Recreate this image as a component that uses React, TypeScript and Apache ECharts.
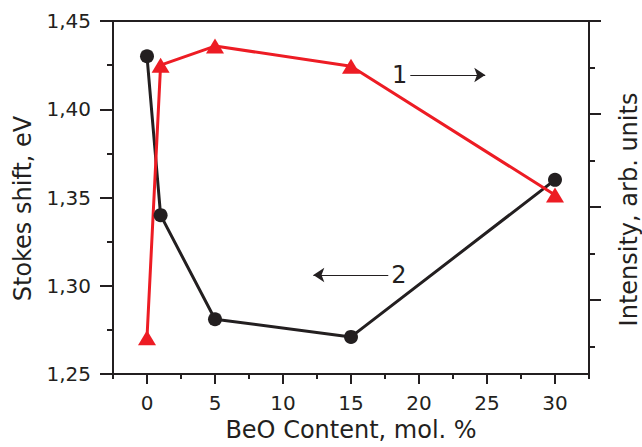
import React, { useEffect, useRef } from "react";
import * as echarts from "echarts";

const BEO_CONTENT = [0, 1, 5, 15, 30];
const STOKES_SHIFT = [1.43, 1.34, 1.281, 1.271, 1.36];
const INTENSITY = [10.3, 87.5, 92.9, 87.2, 50.7];

const ARROW_1 = { label: "1", x: [19.36, 24.87], y: 1.4194 };
const ARROW_2 = { label: "2", x: [17.74, 12.23], y: 1.3061 };

const INK = "#231f20";
const RED = "#ed1c24";
const FONT = "DejaVu Sans";

export default function App() {
  const ref = useRef<HTMLDivElement>(null);
  useEffect(() => {
    if (!ref.current) return;
    const chart = echarts.init(ref.current, null, { renderer: "svg" });
    const gridBase = { left: 113, top: 21, width: 476 };
    const ghostLine = { show: true, onZero: false, lineStyle: { color: INK, width: 2, opacity: 0 } };
    const hiddenX = (gridIndex: number) => ({
      type: "value",
      gridIndex,
      min: 0,
      max: 1,
      show: false,
      axisLine: { onZero: false },
    });
    const option: any = {
      animation: false,
      textStyle: { fontFamily: FONT, color: INK },
      grid: [
        {
          ...gridBase,
          height: 353,
          show: true,
          borderColor: INK,
          borderWidth: 2,
          outerBoundsMode: "none",
        },
        { left: 147, top: 21, width: 408, height: 353, outerBoundsMode: "none" },
        { ...gridBase, height: 325.5, outerBoundsMode: "none" },
        { ...gridBase, height: 279, outerBoundsMode: "none" },
      ],
      xAxis: [
        {
          type: "value",
          gridIndex: 0,
          min: -2.5,
          max: 32.5,
          interval: 2.5,
          axisLine: { show: true, onZero: false, lineStyle: { color: INK, width: 2 } },
          axisTick: { show: true, length: 5, lineStyle: { color: INK, width: 2 } },
          axisLabel: { show: false },
          splitLine: { show: false },
        },
        {
          type: "value",
          gridIndex: 1,
          min: 0,
          max: 30,
          interval: 5,
          name: "BeO Content, mol. %",
          nameLocation: "middle",
          nameGap: 44,
          nameTextStyle: { fontSize: 24, color: INK, fontFamily: FONT },
          axisLine: ghostLine,
          axisTick: { show: true, length: 10, lineStyle: { color: INK, width: 2 } },
          axisLabel: { fontSize: 20, color: INK, fontFamily: FONT, margin: 19 },
          splitLine: { show: false },
        },
        hiddenX(2),
        hiddenX(3),
      ],
      yAxis: [
        {
          type: "value",
          gridIndex: 0,
          position: "left",
          min: 1.25,
          max: 1.45,
          interval: 0.05,
          name: "Stokes shift, eV",
          nameLocation: "middle",
          nameGap: 78,
          nameTextStyle: { fontSize: 24, color: INK, fontFamily: FONT, padding: [0, 22, 0, 0] },
          axisLine: { show: true, onZero: false, lineStyle: { color: INK, width: 2 } },
          axisTick: { show: true, length: 13, lineStyle: { color: INK, width: 2 } },
          minorTick: { show: true, splitNumber: 2, length: 6, lineStyle: { color: INK, width: 2 } },
          axisLabel: {
            fontSize: 20,
            color: INK,
            fontFamily: FONT,
            margin: 22,
            formatter: (v: number) => v.toFixed(2).replace(".", ","),
          },
          splitLine: { show: false },
          minorSplitLine: { show: false },
        },
        {
          type: "value",
          gridIndex: 0,
          position: "right",
          min: 0,
          max: 100,
          name: "Intensity, arb. units",
          nameLocation: "middle",
          nameGap: 28,
          nameRotate: 90,
          nameTextStyle: { fontSize: 24, color: INK, fontFamily: FONT, padding: [0, 24, 0, 0] },
          axisLine: { show: true, onZero: false, lineStyle: { color: INK, width: 2 } },
          axisTick: { show: false },
          axisLabel: { show: false },
          splitLine: { show: false },
        },
        { type: "value", gridIndex: 1, min: 0, max: 1, show: false, axisLine: { onZero: false } },
        {
          type: "value",
          gridIndex: 2,
          position: "right",
          inverse: true,
          min: 0,
          max: 3.5,
          interval: 0.5,
          axisLine: ghostLine,
          axisTick: { show: true, length: 6, lineStyle: { color: INK, width: 2 } },
          axisLabel: { show: false },
          splitLine: { show: false },
        },
        {
          type: "value",
          gridIndex: 3,
          position: "right",
          inverse: true,
          min: 0,
          max: 3,
          interval: 1,
          axisLine: ghostLine,
          axisTick: { show: true, length: 12, lineStyle: { color: INK, width: 2 } },
          axisLabel: { show: false },
          splitLine: { show: false },
        },
      ],
      series: [
        {
          type: "line",
          xAxisIndex: 0,
          yAxisIndex: 0,
          data: BEO_CONTENT.map((x, i) => [x, STOKES_SHIFT[i]]),
          symbol: "circle",
          symbolSize: 14,
          lineStyle: { color: INK, width: 3 },
          itemStyle: { color: INK },
          emphasis: { disabled: true },
          markLine: {
            silent: true,
            symbol: ["none", "arrow"],
            symbolSize: 11,
            lineStyle: { color: INK, width: 1.2, type: "solid" },
            label: {
              show: true,
              position: "start",
              distance: 3,
              formatter: "{b}",
              fontSize: 24,
              color: INK,
              fontFamily: FONT,
              padding: [10, 0, 0, 0],
            },
            emphasis: { disabled: true },
            data: [ARROW_1, ARROW_2].map((a) => [
              { name: a.label, coord: [a.x[0], a.y] },
              { coord: [a.x[1], a.y] },
            ]),
          },
        },
        {
          type: "line",
          xAxisIndex: 0,
          yAxisIndex: 1,
          data: BEO_CONTENT.map((x, i) => [x, INTENSITY[i]]),
          symbol: "triangle",
          symbolSize: [18, 15],
          lineStyle: { color: RED, width: 3 },
          itemStyle: { color: RED },
          emphasis: { disabled: true },
        },
      ],
    };
    chart.setOption(option);
    return () => chart.dispose();
  }, []);
  return (
    <div
      ref={ref}
      style={{ position: "fixed", left: 0, top: 0, width: 642, height: 447, background: "#fff" }}
    />
  );
}
